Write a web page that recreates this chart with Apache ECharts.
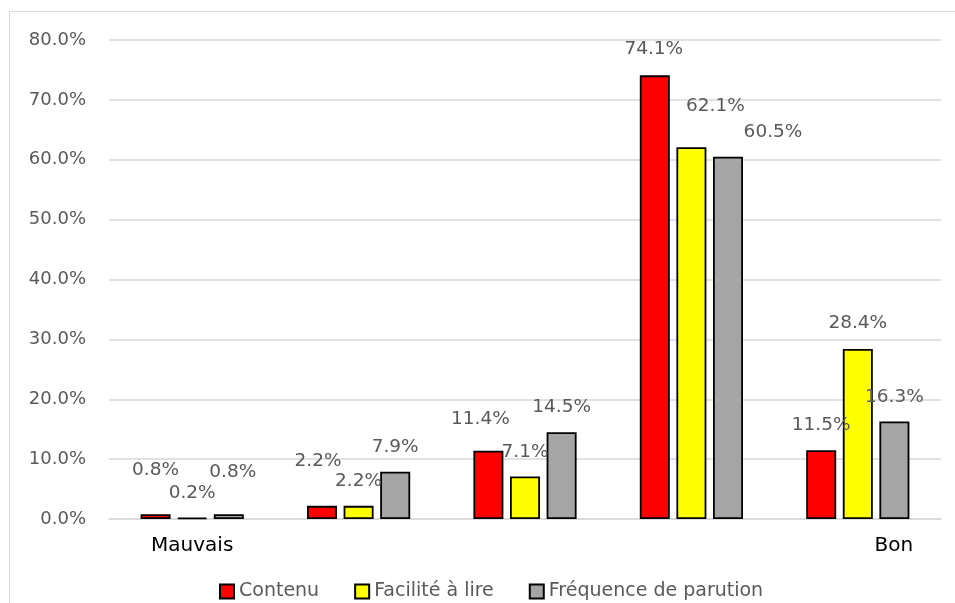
<!DOCTYPE html>
<html>
<head>
<meta charset="utf-8">
<script src="https://cdn.jsdelivr.net/npm/echarts@6/dist/echarts.min.js"></script>
<style>
html,body{margin:0;padding:0;background:#fff;}
#chart{width:955px;height:603px;}
</style>
</head>
<body>
<div id="chart"></div>
<script>
const categories = ['Mauvais', '', '', '', 'Bon'];
const seriesNames = ['Contenu', 'Facilité à lire', 'Fréquence de parution'];
const contenu = [0.8, 2.2, 11.4, 74.1, 11.5];
const facilite = [0.2, 2.2, 7.1, 62.1, 28.4];
const frequence = [0.8, 7.9, 14.5, 60.5, 16.3];
const yTicks = [0, 10, 20, 30, 40, 50, 60, 70, 80];

// label nudges (dx, dy) per series/category, mimicking manually placed labels
const labelNudges = [
  [[0,-20],[-4,-20],[-8,-7],[-1,-2],[0,0]],
  [[0,0],[0,0],[0,0],[24,-16],[0,-1]],
  [[4,-18],[0,0],[0,0],[45,0],[0,0]]
];
const colors = ['#FF0000', '#FFFF00', '#A5A5A5'];
const FONT = 'DejaVu Sans';

const chart = echarts.init(document.getElementById('chart'));
const allData = [contenu, facilite, frequence];

const series = allData.map((vals, si) => ({
  name: seriesNames[si],
  type: 'bar',
  barWidth: 30,
  barGap: '22%',
  itemStyle: {color: colors[si], borderColor: '#000', borderWidth: 1.8},
  label: {
    show: true,
    position: 'top',
    distance: 15,
    fontFamily: FONT,
    fontSize: 18.5,
    color: '#595959',
    formatter: p => p.value.toFixed(1) + '%'
  },
  data: vals.map((v, ci) => ({
    value: v,
    label: {offset: labelNudges[si][ci]}
  }))
}));

chart.setOption({
  animation: false,
  backgroundColor: '#fff',
  graphic: [{
    type: 'polyline',
    shape: {points: [[9.5, 700], [9.5, 11.5], [1200, 11.5]]},
    style: {fill: 'none', stroke: '#d9d9d9', lineWidth: 1}
  }],
  grid: {left: 109, right: 14, top: 40, bottom: 84},
  legend: {
    left: 214,
    top: 577,
    icon: 'rect',
    itemWidth: 14,
    itemHeight: 14,
    itemGap: 35,
    textStyle: {fontFamily: FONT, fontSize: 19, color: '#595959'},
    data: seriesNames
  },
  xAxis: {
    type: 'category',
    data: categories,
    axisTick: {show: false},
    axisLine: {show: true, lineStyle: {color: '#d9d9d9', width: 1.5}},
    axisLabel: {
      margin: 17,
      fontFamily: FONT,
      fontSize: 20,
      color: '#000',
      interval: 0,
      formatter: (v, i) => i === categories.length - 1 ? '{r|' + v + '}' : v,
      rich: {r: {fontFamily: FONT, fontSize: 20, color: '#000', padding: [0, 0, 0, 72]}}
    }
  },
  yAxis: {
    type: 'value',
    min: yTicks[0],
    max: yTicks[yTicks.length - 1],
    interval: yTicks[1] - yTicks[0],
    axisLine: {show: false},
    axisTick: {show: false},
    splitLine: {lineStyle: {color: '#d9d9d9', width: 1.5}},
    axisLabel: {
      margin: 23,
      fontFamily: FONT,
      fontSize: 18,
      color: '#595959',
      formatter: v => v.toFixed(1) + '%'
    }
  },
  series: series
});
</script>
</body>
</html>
